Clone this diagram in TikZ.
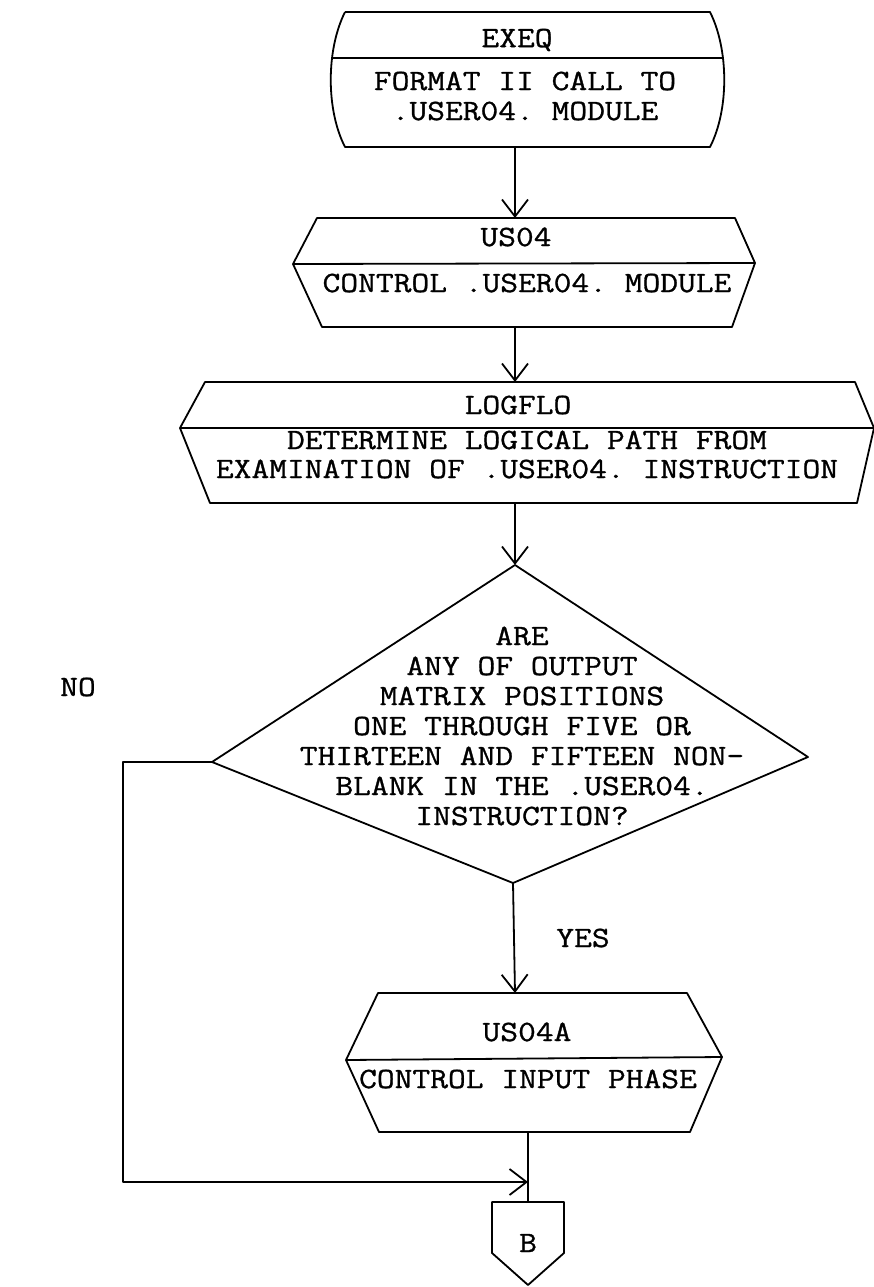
\documentclass[tikz,border=0pt]{standalone}
\usepackage{fontspec}
\setmonofont{Latin Modern Mono}[FakeStretch=1.17,FakeBold=1]
\usetikzlibrary{arrows.meta}
\begin{document}
\begin{tikzpicture}[x=1pt,y=-1pt,line width=1.8pt,line join=round,
  lbl/.style={font=\ttfamily\fontsize{29.5pt}{30pt}\selectfont,inner sep=0pt,align=center},
  arr/.style={-{Straight Barb[length=17pt,width=26pt,line width=1.8pt]}},
  shp/.style={draw=black}]
\useasboundingbox (0,0) rectangle (874,1287);

% ---- EXEQ (terminal-like box)
\draw[shp] (345,12) -- (710,12) .. controls (729,50) and (729,110) .. (710,147)
  -- (345,147) .. controls (326,110) and (326,50) .. (345,12);
\draw[shp] (332,58) -- (723,58);
\node[lbl] (exeqT) at (517,40) {EXEQ};
\node[lbl] (exeqB) at (525,96) {FORMAT II CALL TO\\.USER04. MODULE};
\coordinate (exeqS) at (515,147);

% ---- US04
\draw[shp] (317,218) -- (735,218) -- (755,263) -- (732,327) -- (322,327) -- (293,264) -- cycle;
\draw[shp] (293,264) -- (755,263);
\node[lbl] (us04T) at (516,237) {US04};
\node[lbl] (us04B) at (527,283) {CONTROL .USER04. MODULE};
\coordinate (us04N) at (515,218);
\coordinate (us04S) at (515,327);

% ---- LOGFLO
\draw[shp] (205,382) -- (855,382) -- (874,428) -- (857,503) -- (210,503) -- (180,428) -- cycle;
\draw[shp] (180,428) -- (874,428);
\node[lbl] (logT) at (518,405) {LOGFLO};
\node[lbl] (logB1) at (527,440) {DETERMINE LOGICAL PATH FROM};
\node[lbl] (logB2) at (527,469) {EXAMINATION OF .USER04. INSTRUCTION};
\coordinate (logN) at (515,382);
\coordinate (logS) at (515,503);

% ---- decision
\coordinate (dN) at (515,565);
\coordinate (dE) at (808,757);
\coordinate (dS) at (513,883);
\coordinate (dW) at (212,762);
\draw[shp] (dN) -- (dE) -- (dS) -- (dW) -- cycle;
\node[lbl] (dT) at (522,726) {ARE\\ANY OF OUTPUT\\MATRIX POSITIONS\\ONE THROUGH FIVE OR\\THIRTEEN AND FIFTEEN NON-\\BLANK IN THE .USER04.\\INSTRUCTION?};

% ---- US04A
\draw[shp] (378,993) -- (687,993) -- (722,1057) -- (690,1132) -- (379,1132) -- (346,1060) -- cycle;
\draw[shp] (346,1060) -- (722,1057);
\node[lbl] (us4aT) at (527,1032) {US04A};
\node[lbl] (us4aB) at (528,1079) {CONTROL INPUT PHASE};
\coordinate (us4aN) at (515,993);
\coordinate (us4aS) at (528,1132);

% ---- B connector
\draw[shp] (492,1202) -- (564,1202) -- (564,1253) -- (528,1285) -- (492,1253) -- cycle;
\node[lbl] (bT) at (528,1243) {B};
\coordinate (bN) at (528,1202);
\coordinate (join) at (528,1182);

% ---- labels
\node[lbl] (no) at (78,687) {NO};
\node[lbl] (yes) at (583,938) {YES};

% ---- connectors
\draw[arr] (exeqS) -- (us04N);
\draw[arr] (us04S) -- (logN);
\draw[arr] (logS) -- (dN);
\draw[arr] (dS) -- (us4aN);
\draw (us4aS) -- (bN);
\coordinate (noC) at (123,762);
\coordinate (noD) at (123,1182);
\draw[arr] (dW) -- (noC) -- (noD) -- (join);
\end{tikzpicture}
\end{document}
